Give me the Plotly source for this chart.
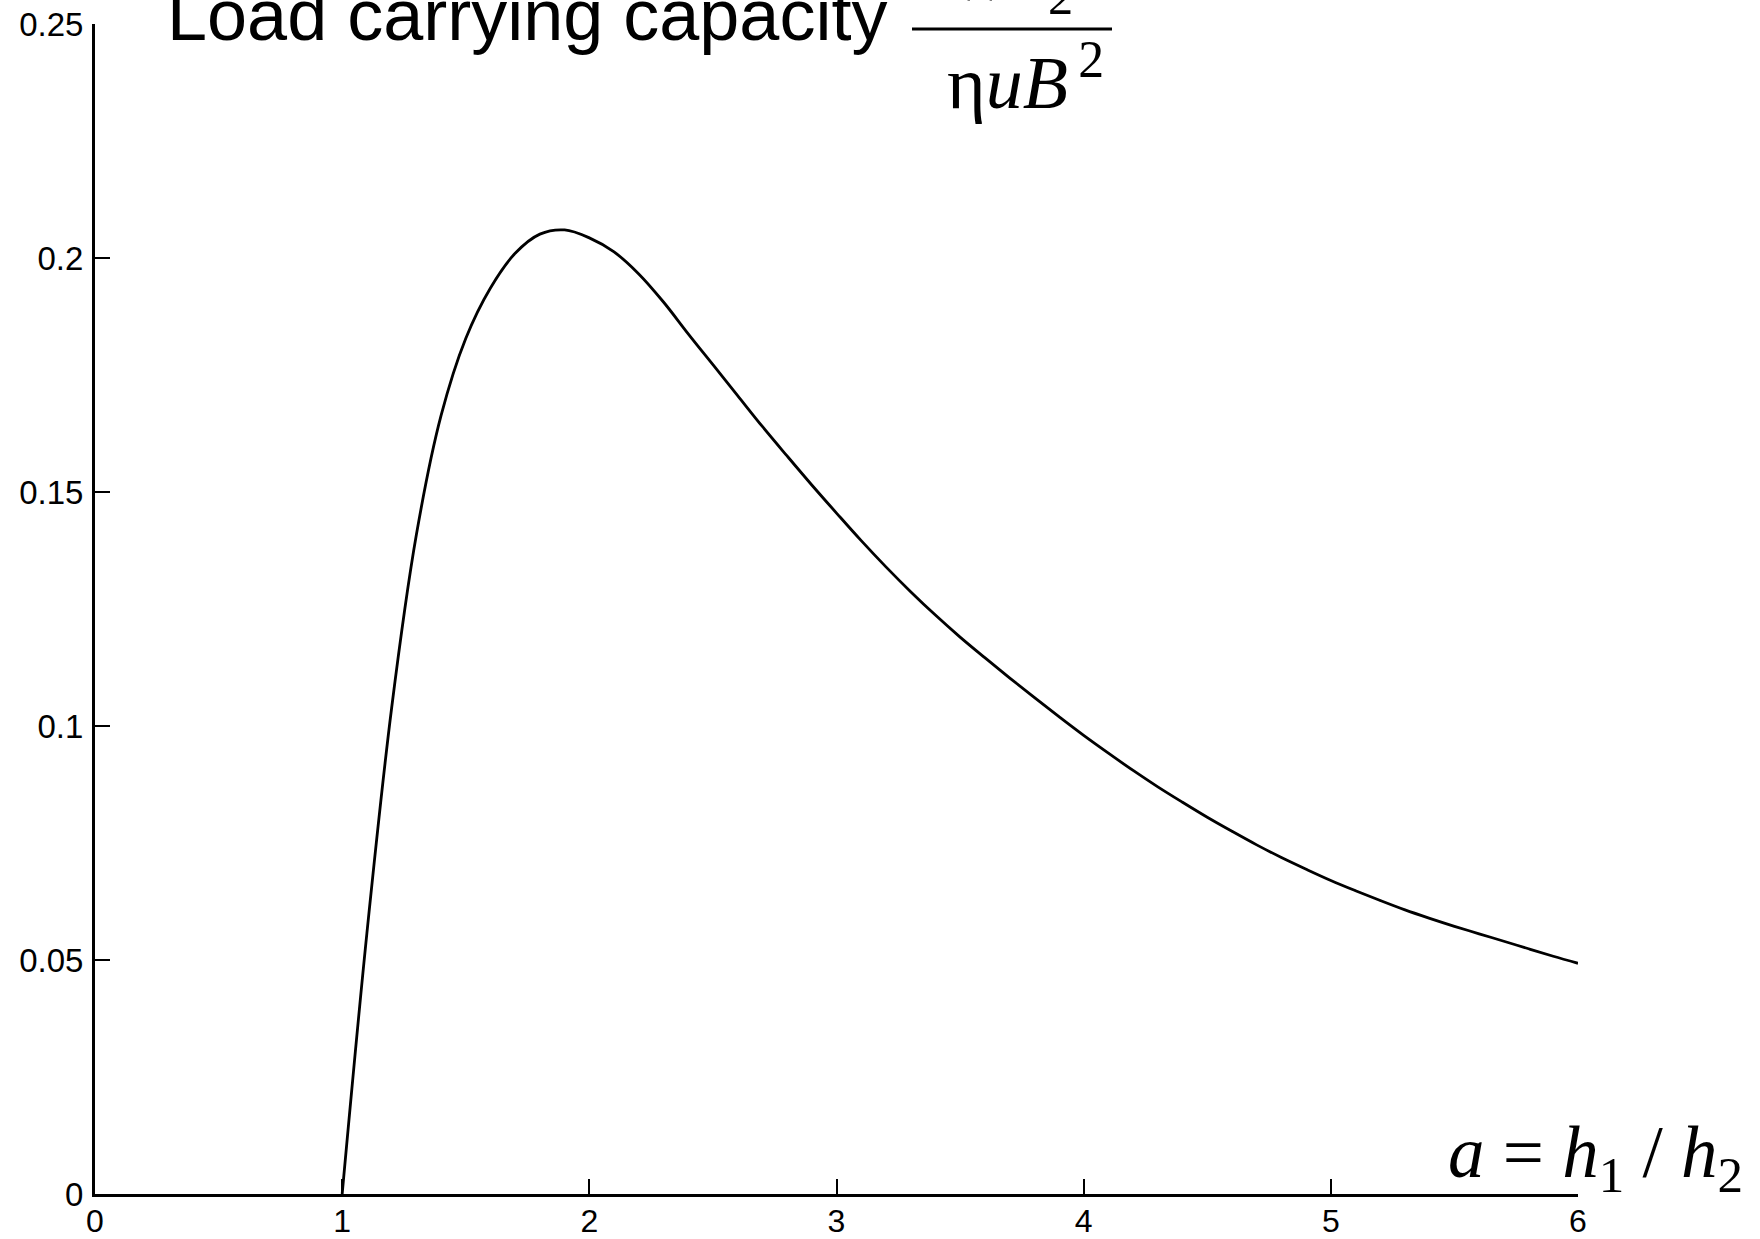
import plotly.graph_objects as go

# ---- data ----
a_ratio = [1.0, 1.1, 1.2, 1.3, 1.4, 1.5, 1.6, 1.7, 1.8, 1.9,
           2.0, 2.1, 2.2, 2.3, 2.4, 2.5, 2.6, 2.7, 2.8, 2.9,
           3.0, 3.1, 3.2, 3.3, 3.4, 3.5, 3.6, 3.7, 3.8, 3.9,
           4.0, 4.1, 4.2, 4.3, 4.4, 4.5, 4.6, 4.7, 4.8, 4.9,
           5.0, 5.1, 5.2, 5.3, 5.4, 5.5, 5.6, 5.7, 5.8, 5.9,
           6.0]
load_capacity = [0.0000, 0.0557, 0.1038, 0.1408, 0.1663, 0.1828, 0.1936, 0.2010, 0.2051, 0.2060,
                 0.2043, 0.2013, 0.1966, 0.1906, 0.1838, 0.1772, 0.1706, 0.1640, 0.1577, 0.1515,
                 0.1455, 0.1396, 0.1340, 0.1287, 0.1237, 0.1190, 0.1146, 0.1103, 0.1061, 0.1020,
                 0.0980, 0.0942, 0.0905, 0.0870, 0.0837, 0.0805, 0.0775, 0.0746, 0.0719, 0.0694,
                 0.0670, 0.0648, 0.0627, 0.0607, 0.0589, 0.0572, 0.0556, 0.0540, 0.0524, 0.0508,
                 0.0493]

x_tickvals = [0, 1, 2, 3, 4, 5, 6]
x_ticktext = ["0", "1", "2", "3", "4", "5", "6"]
y_tickvals = [0, 0.05, 0.1, 0.15, 0.2, 0.25]
y_ticktext = ["0", "0.05", "0.1", "0.15", "0.2", "0.25"]

W, H = 1760, 1239
L, R, T, B = 95, 182, 24, 45
PW, PH = W - L - R, H - T - B


def px(xpix):
    return (xpix - L) / PW


def py(ypix):
    return (H - B - ypix) / PH


SANS = "Arial, 'Liberation Sans', sans-serif"
SERIF = "'Times New Roman', 'Liberation Serif', serif"

fig = go.Figure()
fig.add_trace(go.Scatter(
    x=a_ratio, y=load_capacity, mode="lines",
    line=dict(color="black", width=2.8, shape="spline", smoothing=1.0),
    showlegend=False, hoverinfo="skip",
))

axis_common = dict(
    showline=True, linecolor="black", linewidth=3,
    ticks="inside", ticklen=15, tickwidth=2, tickcolor="black",
    showgrid=False, zeroline=False, automargin=False,
)

fig.update_xaxes(range=[0, 6], tickvals=x_tickvals, ticktext=x_ticktext,
                 ticklabelstandoff=-3,
                 tickfont=dict(family=SANS, size=32, color="black"), **axis_common)
fig.update_yaxes(range=[0, 0.25], tickvals=y_tickvals, ticktext=y_ticktext,
                 ticklabelstandoff=2,
                 tickfont=dict(family=SANS, size=33, color="black"), **axis_common)

annotations = [
    dict(text="Load carrying capacity", x=px(165), y=py(57), xref="paper", yref="paper",
         xanchor="left", yanchor="bottom", showarrow=False,
         font=dict(family=SANS, size=72, color="black")),
    dict(text="<i>Wh</i><sub>2</sub>", x=px(1075), y=py(27), xref="paper", yref="paper",
         xanchor="right", yanchor="bottom", showarrow=False,
         font=dict(family=SERIF, size=72, color="black")),
    dict(text="η<i>uB</i><sup>\u20092</sup>", x=px(945), y=py(126), xref="paper", yref="paper",
         xanchor="left", yanchor="bottom", showarrow=False,
         font=dict(family=SERIF, size=74, color="black")),
    dict(text="<i>a</i> = <i>h</i><sub>1</sub> / <i>h</i><sub>2</sub>", x=px(1745), y=py(1205),
         xref="paper", yref="paper", xanchor="right", yanchor="bottom", showarrow=False,
         font=dict(family=SERIF, size=73, color="black")),
]

shapes = [
    dict(type="line", xref="paper", yref="paper", x0=px(912), x1=px(1112),
         y0=py(29), y1=py(29), line=dict(color="black", width=3)),
]

fig.update_layout(
    width=W, height=H,
    margin=dict(l=L, r=R, t=T, b=B),
    paper_bgcolor="white", plot_bgcolor="white",
    annotations=annotations, shapes=shapes,
    showlegend=False,
)

fig.write_html("out.html")
